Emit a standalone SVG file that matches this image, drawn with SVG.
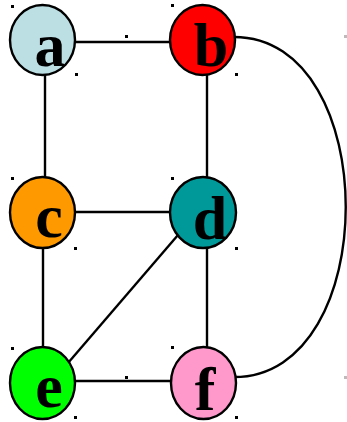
<svg xmlns="http://www.w3.org/2000/svg" width="347" height="422" viewBox="0 0 347 422">
<style>
.edge{stroke:#000;stroke-width:2.4;fill:none}
.node ellipse{stroke:#000;stroke-width:2.4}
.node text{font-family:"Liberation Serif","Times New Roman",serif;font-weight:bold;font-size:62px;text-anchor:middle;fill:#000}
.h{fill:#000}
</style>
<rect width="347" height="422" fill="#fff"/>
<g id="connectors">
<line class="edge" x1="75" y1="42" x2="171" y2="42"/>
<line class="edge" x1="45" y1="75" x2="45" y2="177"/>
<line class="edge" x1="207" y1="75" x2="207" y2="177"/>
<line class="edge" x1="75" y1="212" x2="171" y2="212"/>
<line class="edge" x1="43" y1="248" x2="43" y2="347"/>
<line class="edge" x1="207" y1="248" x2="207" y2="347"/>
<line class="edge" x1="75" y1="381" x2="172" y2="381"/>
<line class="edge" x1="178" y1="235" x2="68" y2="363"/>
<path class="edge" d="M234,37 C383,37 383,377 234,377"/>
</g>
<g id="node-a" class="node">
<ellipse cx="42.5" cy="40" rx="32.5" ry="35" fill="#bcdfe4"/>
<text x="50" y="66">a</text>
</g>
<g id="node-b" class="node">
<ellipse cx="202.5" cy="40" rx="32.5" ry="35" fill="#ff0000"/>
<text x="211" y="66">b</text>
</g>
<g id="node-c" class="node">
<ellipse cx="42.5" cy="212.5" rx="32.5" ry="35.5" fill="#ff9900"/>
<text x="49" y="237">c</text>
</g>
<g id="node-d" class="node">
<ellipse cx="203" cy="212.5" rx="33" ry="35.5" fill="#009999"/>
<text x="210" y="239">d</text>
</g>
<g id="node-e" class="node">
<ellipse cx="42.5" cy="383" rx="32.5" ry="36" fill="#00ff00"/>
<text x="49" y="407">e</text>
</g>
<g id="node-f" class="node">
<ellipse cx="203.5" cy="383" rx="32.5" ry="36" fill="#ff99cc"/>
<text x="205" y="410">f</text>
</g>
<g id="handles">
<rect class="h" x="11" y="5" width="3" height="3"/>
<rect class="h" x="75" y="73" width="3" height="3"/>
<rect class="h" x="171" y="4" width="3" height="3"/>
<rect class="h" x="125" y="35" width="3" height="3"/>
<rect class="h" x="235" y="73" width="3" height="3"/>
<rect x="344" y="35" width="3" height="3" fill="#bbb"/>
<rect class="h" x="11" y="177" width="3" height="3"/>
<rect class="h" x="74" y="247" width="3" height="3"/>
<rect class="h" x="171" y="177" width="3" height="3"/>
<rect class="h" x="235" y="247" width="3" height="3"/>
<rect class="h" x="11" y="347" width="3" height="3"/>
<rect class="h" x="74" y="416" width="3" height="3"/>
<rect class="h" x="171" y="346" width="3" height="3"/>
<rect class="h" x="125" y="376" width="3" height="3"/>
<rect class="h" x="235" y="416" width="3" height="3"/>
<rect x="344" y="376" width="3" height="3" fill="#bbb"/>
</g>
</svg>
